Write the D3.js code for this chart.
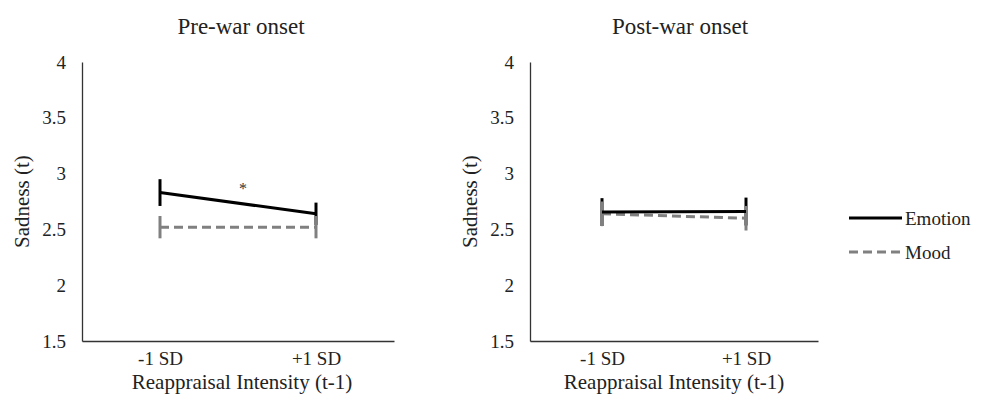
<!DOCTYPE html>
<html><head><meta charset="utf-8">
<script src="https://cdn.jsdelivr.net/npm/d3@7"></script>
<style>body{margin:0;background:#fff}svg{display:block}</style>
</head><body><svg id="c" width="984" height="409"></svg>
<script>
const categories = ["-1 SD", "+1 SD"];
const panels = ["Pre-war onset", "Post-war onset"];
const seriesNames = ["Emotion", "Mood"];
const preEmotion = [2.83, 2.64];
const preEmotionErr = [0.12, 0.10];
const preMood = [2.52, 2.52];
const preMoodErr = [0.10, 0.10];
const postEmotion = [2.655, 2.66];
const postEmotionErr = [0.125, 0.125];
const postMood = [2.64, 2.60];
const postMoodErr = [0.11, 0.11];
const yTicks = [1.5, 2, 2.5, 3, 3.5, 4];
const significance = ["*", ""];

const FONT = '"Liberation Serif","Times New Roman",serif';
const svg = d3.select("#c");
const layouts = [{x0: 82, x1: 394, title: 241, ylab: 22, tickX: 66, xt: 242}, {x0: 530, x1: 818, title: 680, ylab: 470, tickX: 514, xt: 674}];
const dataSets = [
  [{v: preEmotion, e: preEmotionErr}, {v: preMood, e: preMoodErr}],
  [{v: postEmotion, e: postEmotionErr}, {v: postMood, e: postMoodErr}]
];
const styles = [{color: "#000", dash: null}, {color: "#808080", dash: "9,5"}];
const y = d3.scaleLinear().domain([1.5, 4]).range([341, 62]);

panels.forEach((title, p) => {
  const L = layouts[p];
  const x = d3.scalePoint().domain(categories).range([L.x0, L.x1]).padding(0.5);
  const g = svg.append("g");
  const ya = g.append("g").attr("transform", `translate(${L.x0},0)`)
    .call(d3.axisLeft(y).tickValues(yTicks).tickSize(0).tickPadding(0).tickFormat(d3.format("")));
  ya.attr("font-family", FONT);
  ya.select(".domain").attr("stroke", "#333").attr("stroke-width", 1.3);
  ya.selectAll("text").attr("x", L.tickX - L.x0).attr("font-size", 19).attr("fill", "#222");
  const xa = g.append("g").attr("transform", "translate(0,341)")
    .call(d3.axisBottom(x).tickSize(0).tickPadding(8));
  xa.attr("font-family", FONT);
  xa.select(".domain").attr("stroke", "#333").attr("stroke-width", 1.3);
  xa.selectAll("text").attr("font-size", 19).attr("fill", "#222").attr("dy", "0.85em");
  g.append("text").attr("x", L.title).attr("y", 34).attr("text-anchor", "middle")
    .attr("font-family", FONT).attr("font-size", 23).attr("fill", "#222").text(title);
  g.append("text").attr("transform", `translate(${L.ylab + 7},${y(2.75)}) rotate(-90)`)
    .attr("text-anchor", "middle").attr("font-family", FONT).attr("font-size", 21).attr("fill", "#222").text("Sadness (t)");
  g.append("text").attr("x", L.xt).attr("y", 389).attr("text-anchor", "middle")
    .attr("font-family", FONT).attr("font-size", 21).attr("fill", "#222").text("Reappraisal Intensity (t-1)");

  const series = [0, 1].map(s => categories.map((c, i) => ({c, v: dataSets[p][s].v[i], e: dataSets[p][s].e[i]})));
  [0, 1].forEach(s => {
    g.selectAll(null).data(series[s]).enter().append("line")
      .attr("x1", q => x(q.c)).attr("x2", q => x(q.c))
      .attr("y1", q => y(q.v + q.e)).attr("y2", q => y(q.v - q.e))
      .attr("stroke", styles[s].color).attr("stroke-width", 3);
  });
  [1, 0].forEach(s => {
    g.append("path").datum(series[s])
      .attr("d", d3.line().x(q => x(q.c)).y(q => y(q.v)))
      .attr("fill", "none").attr("stroke", styles[s].color).attr("stroke-width", 3)
      .attr("stroke-dasharray", styles[s].dash);
  });
  if (significance[p]) {
    const mid = (x(categories[0]) + x(categories[1])) / 2;
    const vm = (series[0][0].v + series[0][1].v) / 2;
    g.append("text").attr("x", mid + 5).attr("y", y(vm) - 9).attr("text-anchor", "middle")
      .attr("font-family", FONT).attr("font-size", 16).attr("fill", "#333").text(significance[p]);
  }
});

const lg = svg.append("g");
seriesNames.forEach((n, i) => {
  const yy = 218 + i * 34;
  lg.append("line").attr("x1", 849).attr("x2", 902).attr("y1", yy).attr("y2", yy)
    .attr("stroke", styles[i].color).attr("stroke-width", 3).attr("stroke-dasharray", styles[i].dash);
  lg.append("text").attr("x", 905).attr("y", yy).attr("dy", "0.35em")
    .attr("font-family", FONT).attr("font-size", 19).attr("fill", "#222").text(n);
});
</script></body></html>
